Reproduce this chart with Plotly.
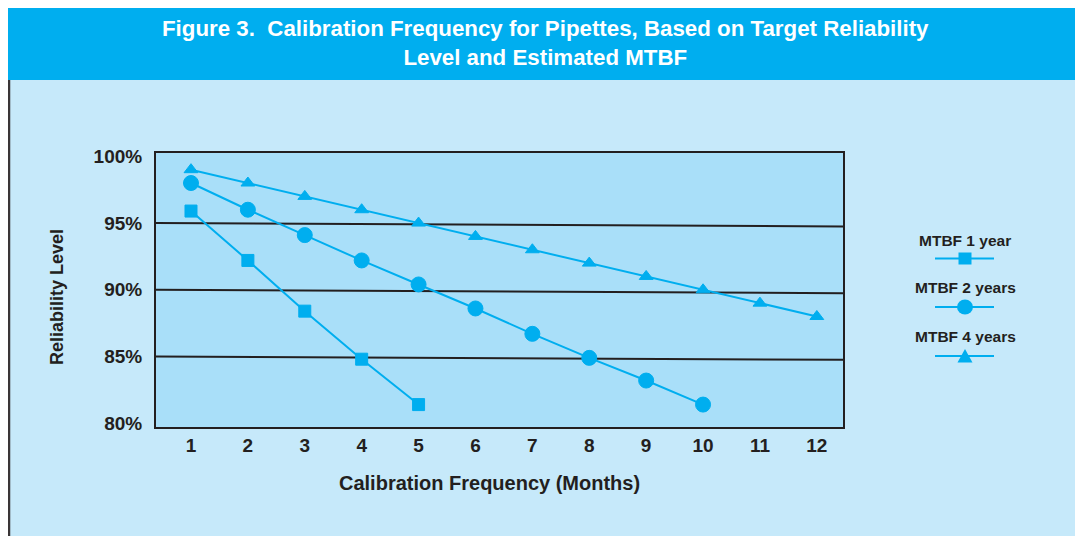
import plotly.graph_objects as go

# ---- data ----
months = [1, 2, 3, 4, 5, 6, 7, 8, 9, 10, 11, 12]
mtbf_1yr = [95.9, 92.2, 88.4, 84.8, 81.4]
mtbf_2yr = [98.0, 96.0, 94.1, 92.2, 90.4, 88.6, 86.7, 84.9, 83.2, 81.4]
mtbf_4yr = [99, 98, 97, 96, 95, 94, 93, 92, 91, 90, 89, 88]
series_names = ["MTBF 1 year", "MTBF 2 years", "MTBF 4 years"]
y_ticks = [80, 85, 90, 95, 100]
y_tick_labels = ["80%", "85%", "90%", "95%", "100%"]
ref_levels = [95, 90, 85]

title_text = "Figure 3.  Calibration Frequency for Pipettes, Based on Target Reliability<br>Level and Estimated MTBF"
x_title = "Calibration Frequency (Months)"
y_title = "Reliability Level"

# ---- style ----
OFF = 8                       # the page's default body margin
W, H = 1083 - OFF, 536 - OFF  # figure fills the rest of the window
CYAN = "#00AEEF"
LIGHT = "#C6E9FA"
PLOTBG = "#A9DFF9"
DARK = "#231F20"
FONT = "Liberation Sans, Arial, Helvetica, sans-serif"

def px(x):
    return (x - OFF) / W

def py(y):
    return 1 - (y - OFF) / H

PL, PR, PT, PB = 156, 843, 153, 427

fig = go.Figure()

symbols = ["square", "circle", "triangle-up"]
sizes = [12, 15, 12]
for name, ys, sym, sz in zip(series_names, [mtbf_1yr, mtbf_2yr, mtbf_4yr], symbols, sizes):
    fig.add_trace(go.Scatter(
        x=months[:len(ys)], y=ys, name=name, mode="lines+markers",
        line=dict(color=CYAN, width=2),
        marker=dict(symbol=sym, size=sz, color=CYAN, line=dict(color=CYAN, width=1)),
        showlegend=False, hoverinfo="skip",
    ))

shapes = []
# title band
shapes.append(dict(type="rect", xref="paper", yref="paper", x0=0, x1=px(1080), y0=py(80), y1=1,
                   fillcolor=CYAN, line=dict(width=0), layer="below"))
# light panel
shapes.append(dict(type="rect", xref="paper", yref="paper", x0=0, x1=px(1079), y0=0, y1=py(80),
                   fillcolor=LIGHT, line=dict(width=0), layer="below"))
for xb in (9, 1078):
    shapes.append(dict(type="line", xref="paper", yref="paper", x0=px(xb), x1=px(xb), y0=py(80), y1=0,
                       line=dict(color="#3a3536", width=2.5), layer="below"))
# plot background
shapes.append(dict(type="rect", xref="paper", yref="paper", x0=px(PL), x1=px(PR), y0=py(PB), y1=py(PT),
                   fillcolor=PLOTBG, line=dict(width=0), layer="below"))
# reference lines (slightly tilted, as in the original)
for lv in ref_levels:
    shapes.append(dict(type="line", xref="x domain", yref="y", x0=0, x1=1, y0=lv, y1=lv - 0.25,
                       line=dict(color=DARK, width=2), layer="below"))

# manual legend (text above symbol, as in the original)
annotations = []
leg_cx = 965
leg_text_y = [240, 287, 336]
leg_sym_y = [258.5, 307, 356]
for i, name in enumerate(series_names):
    annotations.append(dict(text=name, x=px(leg_cx), y=py(leg_text_y[i]), xref="paper", yref="paper",
                            showarrow=False, xanchor="center", yanchor="middle",
                            font=dict(family=FONT, size=15.5, color=DARK, weight="bold")))
    shapes.append(dict(type="line", xref="paper", yref="paper", x0=px(935), x1=px(994),
                       y0=py(leg_sym_y[i]), y1=py(leg_sym_y[i]), line=dict(color=CYAN, width=2)))
sy = leg_sym_y[0]
shapes.append(dict(type="rect", xref="paper", yref="paper", x0=px(leg_cx - 6.5), x1=px(leg_cx + 6.5),
                   y0=py(sy + 6), y1=py(sy - 6), fillcolor=CYAN, line=dict(width=0)))
sy = leg_sym_y[1]
shapes.append(dict(type="circle", xref="paper", yref="paper", x0=px(leg_cx - 8), x1=px(leg_cx + 8),
                   y0=py(sy + 7.5), y1=py(sy - 7.5), fillcolor=CYAN, line=dict(width=0)))
sy = leg_sym_y[2]
shapes.append(dict(type="path", xref="paper", yref="paper",
                   path="M %f %f L %f %f L %f %f Z" % (px(leg_cx - 7.5), py(sy + 6.5), px(leg_cx + 7.5), py(sy + 6.5),
                                                      px(leg_cx), py(sy - 7)),
                   fillcolor=CYAN, line=dict(width=0)))

# title
annotations.append(dict(text=title_text, x=px(545), y=py(43), xref="paper", yref="paper",
                        showarrow=False, xanchor="center", yanchor="middle", align="center",
                        font=dict(family=FONT, size=22.3, color="white", weight="bold")))
# axis titles
annotations.append(dict(text=x_title, x=px(489), y=py(483), xref="paper", yref="paper",
                        showarrow=False, xanchor="center", yanchor="middle",
                        font=dict(family=FONT, size=20, color=DARK, weight="bold")))
annotations.append(dict(text=y_title, x=px(57), y=py(297), xref="paper", yref="paper",
                        showarrow=False, xanchor="center", yanchor="middle", textangle=-90,
                        font=dict(family=FONT, size=18, color=DARK, weight="bold")))

tickfont = dict(family=FONT, size=19, color=DARK, weight="bold")
fig.update_layout(
    width=W, height=H, autosize=False,
    margin=dict(l=0, r=0, t=0, b=0, pad=0, autoexpand=False),
    paper_bgcolor="rgba(0,0,0,0)",
    plot_bgcolor="rgba(0,0,0,0)",
    shapes=shapes,
    annotations=annotations,
    showlegend=False,
    hovermode=False,
    xaxis=dict(domain=[px(PL), px(PR)], range=[0.385, 12.46], tickmode="array", tickvals=months,
               showgrid=False, zeroline=False, showline=True, mirror=True, linecolor=DARK, linewidth=2,
               ticks="", tickfont=tickfont, fixedrange=True, automargin=False),
    yaxis=dict(domain=[py(PB), py(PT)], range=[79.72, 100.25], tickmode="array",
               tickvals=y_ticks, ticktext=y_tick_labels,
               showgrid=False, zeroline=False, showline=True, mirror=True, linecolor=DARK, linewidth=2,
               ticks="outside", ticklen=8, tickcolor="rgba(0,0,0,0)", tickfont=tickfont,
               fixedrange=True, automargin=False),
)

fig.write_html("out.html", config={"displayModeBar": False, "staticPlot": True})
